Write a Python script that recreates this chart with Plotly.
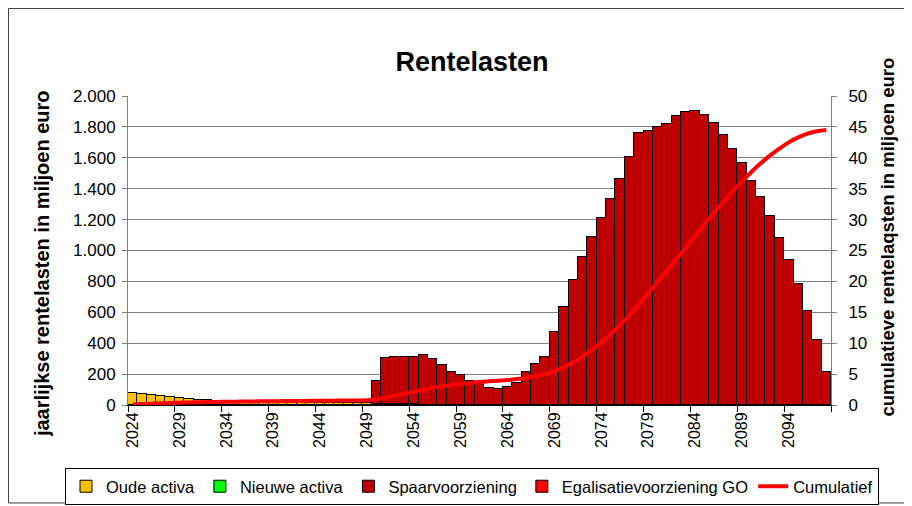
import plotly.graph_objects as go

years = [str(y) for y in range(2024, 2099)]

oude_activa = [75, 70, 64, 58, 53, 47, 41, 35, 30, 26,
               22, 20, 19, 18, 17, 16, 16, 15, 15, 14,
               14, 13, 13, 12, 12, 12, 8, 7, 6, 5,
               4, 3] + [0] * 43

nieuwe_activa = [0] * 75

spaarvoorziening = [0] * 25 + [14, 147, 295, 307, 308, 305, 319, 298, 259, 214,
                               192, 153, 134, 110, 104, 114, 144, 216, 265, 313,
                               472, 636, 807, 958, 1090, 1208, 1333, 1465, 1607, 1758,
                               1775, 1797, 1817, 1871, 1897, 1903, 1877, 1827, 1750, 1655,
                               1564, 1450, 1348, 1221, 1081, 938, 785, 606, 419, 216]

egalisatie = [0] * 75

cumulatief = [0.08, 0.15, 0.21, 0.27, 0.32, 0.37, 0.41, 0.44, 0.47, 0.50,
              0.52, 0.54, 0.56, 0.58, 0.60, 0.61, 0.63, 0.64, 0.66, 0.67,
              0.69, 0.70, 0.71, 0.72, 0.74, 0.76, 0.92, 1.22, 1.53, 1.84,
              2.15, 2.48, 2.77, 3.03, 3.25, 3.44, 3.59, 3.73, 3.84, 3.94,
              4.05, 4.20, 4.41, 4.68, 4.99, 5.46, 6.10, 6.91, 7.86, 8.95,
              10.16, 11.50, 12.96, 14.57, 16.33, 18.10, 19.90, 21.71, 23.59, 25.48,
              27.39, 29.26, 31.09, 32.84, 34.55, 36.15, 37.70, 39.10, 40.40, 41.50,
              42.50, 43.30, 43.90, 44.30, 44.50]

left_ticks = list(range(0, 2001, 200))
right_ticks = list(range(0, 51, 5))

FONT = "Liberation Sans, Arial, sans-serif"

fig = go.Figure()
bar_line = dict(color="black", width=1)
fig.add_trace(go.Bar(x=years, y=oude_activa, name="Oude activa",
                     marker=dict(color="#FFC000", line=bar_line)))
fig.add_trace(go.Bar(x=years, y=nieuwe_activa, name="Nieuwe activa",
                     marker=dict(color="#00FF00", line=bar_line)))
fig.add_trace(go.Bar(x=years, y=spaarvoorziening, name="Spaarvoorziening",
                     marker=dict(color="#C00000", line=bar_line)))
fig.add_trace(go.Bar(x=years, y=egalisatie, name="Egalisatievoorziening GO",
                     marker=dict(color="#FF0000", line=bar_line)))
fig.add_trace(go.Scatter(x=years, y=cumulatief, name="Cumulatief", yaxis="y2",
                         mode="lines", line=dict(color="#FF0000", width=4, shape="spline")))

# page body has an 8px margin: figure is 904x498 so it fills the 912x506 window
fig.update_layout(
    width=904, height=498,
    margin=dict(l=120, r=81, t=88, b=101, autoexpand=False),
    paper_bgcolor="white", plot_bgcolor="white",
    separators=",.",
    barmode="stack", bargap=0,
    font=dict(family=FONT, size=16, color="black"),
    title=dict(text="<b>Rentelasten</b>", x=0.5133, xanchor="center",
               y=0.8916, yanchor="middle", font=dict(size=27, family=FONT)),
    xaxis=dict(type="category", tickangle=-90, dtick=5, tickson="boundaries",
               ticks="outside", ticklen=6, tickcolor="black",
               showline=True, linecolor="black", linewidth=1,
               showgrid=False, tickfont=dict(size=16)),
    yaxis=dict(range=[0, 2000], tickvals=left_ticks, tickformat=",d",
               ticks="outside", ticklen=5, tickcolor="#808080",
               showline=True, linecolor="#808080", linewidth=1,
               showgrid=True, gridcolor="#808080", gridwidth=1,
               zeroline=False, tickfont=dict(size=17), ticklabelstandoff=3),
    yaxis2=dict(range=[0, 50], tickvals=right_ticks, overlaying="y", side="right",
                ticks="outside", ticklen=5, tickcolor="#808080",
                showline=True, linecolor="#808080", linewidth=1,
                showgrid=False, zeroline=False, tickfont=dict(size=17),
                ticklabelstandoff=8),
    legend=dict(orientation="h", x=-0.0896, xanchor="left", y=-0.2039, yanchor="top",
                bordercolor="black", borderwidth=1, traceorder="normal",
                font=dict(size=16.5, family=FONT), itemwidth=30,
                tracegroupgap=0, bgcolor="white"),
    showlegend=True,
)

fig.add_annotation(text="<b>jaarlijkse rentelasten in miljoen euro</b>",
                   xref="paper", yref="paper", x=-0.1223, y=0.456,
                   xanchor="center", yanchor="middle", textangle=-90,
                   showarrow=False, font=dict(size=20, family=FONT))
fig.add_annotation(text="<b>cumulatieve rentelaqsten in miljoen euro</b>",
                   xref="paper", yref="paper", x=1.081, y=0.545,
                   xanchor="center", yanchor="middle", textangle=-90,
                   showarrow=False, font=dict(size=18.5, family=FONT))

fig.add_shape(type="rect", xref="paper", yref="paper",
              x0=-0.170, x1=1.118, y0=-0.317, y1=1.2832,
              line=dict(color="#404040", width=1), layer="below")

fig.write_html("out.html")
